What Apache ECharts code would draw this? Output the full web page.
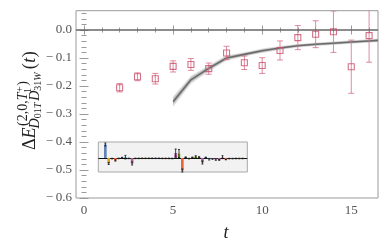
<!DOCTYPE html>
<html><head><meta charset="utf-8">
<script src="https://cdn.jsdelivr.net/npm/echarts@6/dist/echarts.min.js"></script>
<style>html,body{margin:0;padding:0;background:#fff}#c{width:390px;height:248px}</style>
</head><body><div id="c"></div>
<script>
// ---- data ----
const tValues = [2,3,4,5,6,7,8,9,10,11,12,13,14,15,16];
const dE      = [-0.206,-0.167,-0.174,-0.130,-0.123,-0.138,-0.082,-0.117,-0.127,-0.073,-0.027,-0.015,-0.006,-0.131,-0.020];
const dEerr   = [0.015,0.014,0.019,0.020,0.021,0.020,0.024,0.024,0.028,0.034,0.043,0.048,0.074,0.095,0.095];
const fitT       = [5,6,7,8,9,10,11,12,13,14,15,16,16.5];
const fitCentral = [-0.256,-0.178,-0.137,-0.100,-0.087,-0.074,-0.064,-0.056,-0.051,-0.047,-0.043,-0.039,-0.037];
const fitBand    = [0.012,0.009,0.007,0.006,0.005,0.005,0.0045,0.004,0.004,0.004,0.004,0.004,0.004];
const xMajorTicks = [0,5,10,15];
const xMinorTicks = [0,1,2,3,4,5,6,7,8,9,10,11,12,13,14,15,16];
const yMajorTicks = [-0.6,-0.5,-0.4,-0.3,-0.2,-0.1,0.0];
const yMinorTicks = [-0.6,-0.58,-0.56,-0.54,-0.52,-0.5,-0.48,-0.46,-0.44,-0.42,-0.4,-0.38,-0.36,-0.34,-0.32,-0.3,-0.28,-0.26,-0.24,-0.22,-0.2,-0.18,-0.16,-0.14,-0.12,-0.1,-0.08,-0.06,-0.04,-0.02,0,0.02,0.04,0.06];
const insetIndex  = [0,1,2,3,4,5,6,7,8,9,10,11,12,13,14,15,16,17,18,19,20,21,22,23,24,25,26,27,28,29,30,31,32,33,34,35,36,37,38,39,40,41];
const insetValues = [13.5,-5.5,-0.6,-2.5,-0.4,0.4,0.8,-0.4,-5.5,-0.4,-0.4,-0.3,-0.3,-0.3,-0.3,-0.3,-0.3,-0.4,-0.4,-0.4,-0.5,5,4.5,-12.5,0.8,-0.6,0.6,1.5,1.0,-4.5,0.6,-1.2,-1.0,-1.5,-2.0,0.8,-1.5,-0.6,-0.6,-0.5,-0.5,-0.5];
const insetErr    = [1.5,1.0,0.3,0.6,0.3,0.3,1.8,0.3,1.5,0.3,0.3,0.3,0.3,0.3,0.3,0.3,0.3,0.3,0.3,0.3,0.3,4,4,1.5,0.3,0.3,0.3,0.8,0.3,1.5,0.3,0.8,0.3,0.8,0.3,1.5,0.3,0.3,0.3,0.3,0.3,0.3];
const insetColorIdx = [0,1,2,3,4,5,6,7,8,9,10,11,12,13,14,0,1,2,3,4,5,8,2,3,0,1,0,2,4,8,0,6,4,8,8,1,3,0,1,0,1,5];

// ---- styles ----
const palette = ['#5e81b5','#e19c24','#8fb032','#eb6235','#8778b3','#c56e1a','#5d9ec7','#ffbf00','#a5609d','#929600','#e95536','#6685d9','#f89f13','#bc5b80','#47b66d'];
const FAM = "'Liberation Serif', 'DejaVu Serif', serif";
const markColor = '#c94e69';
const errColor = 'rgba(214,110,135,0.8)';
const frameColor = '#9a9a9a';
const XMIN = -0.45, XMAX = 16.5, YMIN = -0.6, YMAX = 0.069;

function tickAxis(kind, pos, vals, len, labels) {
  const a = {
    gridIndex: 0, type: 'value', position: pos,
    min: kind === 'x' ? XMIN : YMIN, max: kind === 'x' ? XMAX : YMAX,
    axisLine: { show: false },
    splitLine: { show: false },
    axisTick: { show: true, inside: true, length: len, customValues: vals, lineStyle: { color: frameColor, width: 1 } },
    axisLabel: { show: false }
  };
  if (labels) {
    a.axisLabel = {
      show: true, customValues: vals, fontFamily: FAM, fontSize: 13, color: '#555',
      margin: kind === 'x' ? 6 : 4,
      formatter: v => {
        if (kind === 'x') return String(Math.round(v));
        const s = Math.abs(v).toFixed(1);
        return (v < -1e-9 ? '\u2212\u2009' : '') + s;
      }
    };
  }
  return a;
}

// y-axis label built from pieces (rotated group)
function buildYLabel() {
  const cv = document.createElement('canvas').getContext('2d');
  const wid = (t, s, it) => { cv.font = (it ? 'italic ' : '') + s + 'px ' + FAM; return cv.measureText(t).width; };
  const M = 18, S = 14, SS = 10;
  const out = [];
  const put = (t, s, it, dy, at) => {
    out.push({ t, s, it, x: at, dy });
    return at + wid(t, s, it);
  };
  let u = put('\u0394', M, false, 0, 0);
  u = put('E', M, true, 0, u);
  const u0 = u + 0.5;
  // superscript
  let us = put('(2,0,', S, false, -8.5, u0 + 1);
  us = put('T', S, true, -8.5, us);
  const a1 = put('1', SS, false, -5, us - 0.5);
  const a2 = put('+', SS, false, -12.5, us + 0.5);
  us = put(')', S, false, -8.5, Math.max(a1, a2) + 0.5);
  // subscript
  let ub = put('D', S, true, 3.5, u0 - 1.5);
  ub = put('01', SS, false, 5.5, ub);
  ub = put('T', SS, true, 5.5, ub);
  ub = put('D', S, true, 3.5, ub + 2);
  ub = put('31', SS, false, 5.5, ub);
  ub = put('W', SS, true, 5.5, ub);
  u = Math.max(us, ub) + 3;
  u = put('(', M, false, 0, u);
  u = put('t', M, true, 0, u + 0.5);
  u = put(')', M, false, 0, u + 0.5);
  return out.map(p => ({
    type: 'text', x: p.x, y: p.dy - 0.3 * p.s,
    style: { text: p.t, font: (p.it ? 'italic ' : '') + p.s + 'px ' + FAM, fill: '#222', textAlign: 'left', textVerticalAlign: 'middle', verticalAlign: 'middle' }
  }));
}

const chart = echarts.init(document.getElementById('c'), null, { renderer: 'canvas' });

const option = {
  animation: false,
  backgroundColor: '#fff',
  grid: [
    { left: 76, top: 10.7, right: 12, bottom: 50, show: true, borderColor: frameColor, borderWidth: 1, backgroundColor: 'transparent', containLabel: false },
    { left: 98.3, top: 142, width: 149, height: 30, show: true, borderColor: '#a8a8a8', borderWidth: 1, backgroundColor: '#f2f2f2', containLabel: false }
  ],
  xAxis: [
    tickAxis('x', 'bottom', xMajorTicks, 4.5, true),
    tickAxis('x', 'bottom', xMinorTicks, 2.5, false),
    tickAxis('x', 'top', xMajorTicks, 4.5, false),
    tickAxis('x', 'top', xMinorTicks, 2.5, false),
    { gridIndex: 1, type: 'value', min: -2.1, max: 42.4, show: false }
  ],
  yAxis: [
    tickAxis('y', 'left', yMajorTicks, 4.5, true),
    tickAxis('y', 'left', yMinorTicks, 2.5, false),
    tickAxis('y', 'right', yMajorTicks, 4.5, false),
    tickAxis('y', 'right', yMinorTicks, 2.5, false),
    { gridIndex: 1, type: 'value', min: -14, max: 16, show: false }
  ],
  graphic: [
    { type: 'group', x: 36, y: 150, rotation: Math.PI / 2, children: buildYLabel() },
    { type: 'text', x: 226, y: 233, style: { text: 't', font: 'italic 18px ' + FAM, fill: '#222', textAlign: 'center', textVerticalAlign: 'middle', verticalAlign: 'middle' } }
  ],
  series: [
    {
      type: 'custom', xAxisIndex: 0, yAxisIndex: 0, clip: true, z: 2,
      data: fitT.map((t, i) => [t, fitCentral[i], fitBand[i]]),
      renderItem: (params, api) => {
        if (params.dataIndex !== 0) return null;
        const up = fitT.map((t, i) => api.coord([t, fitCentral[i] + fitBand[i]]));
        const dn = fitT.map((t, i) => api.coord([t, fitCentral[i] - fitBand[i]])).reverse();
        const outer = fitT.map((t, i) => api.coord([t, fitCentral[i] + fitBand[i] * 1.6]))
          .concat(fitT.map((t, i) => api.coord([t, fitCentral[i] - fitBand[i] * 1.6])).reverse());
        return { type: 'group', children: [
          { type: 'polygon', shape: { points: outer }, style: { fill: 'rgba(190,190,190,0.45)' } },
          { type: 'polygon', shape: { points: up.concat(dn) }, style: { fill: '#bdbdbd' } }
        ] };
      }
    },
    {
      type: 'line', xAxisIndex: 0, yAxisIndex: 0, z: 3,
      data: fitT.map((t, i) => [t, fitCentral[i]]),
      showSymbol: false, symbol: 'none',
      lineStyle: { color: '#6a6a6a', width: 1.6 }
    },
    {
      type: 'custom', xAxisIndex: 0, yAxisIndex: 0, clip: true, z: 4,
      data: tValues.map((t, i) => [t, dE[i], dEerr[i]]),
      renderItem: (params, api) => {
        const t = api.value(0), v = api.value(1), e = api.value(2);
        const p1 = api.coord([t, v + e]), p2 = api.coord([t, v - e]);
        const c = 3;
        const st = { stroke: errColor, lineWidth: 1 };
        return { type: 'group', children: [
          { type: 'line', shape: { x1: p1[0], y1: p1[1], x2: p2[0], y2: p2[1] }, style: st },
          { type: 'line', shape: { x1: p1[0] - c, y1: p1[1], x2: p1[0] + c, y2: p1[1] }, style: st },
          { type: 'line', shape: { x1: p2[0] - c, y1: p2[1], x2: p2[0] + c, y2: p2[1] }, style: st }
        ] };
      }
    },
    {
      type: 'scatter', xAxisIndex: 0, yAxisIndex: 0, z: 5,
      data: tValues.map((t, i) => [t, dE[i]]),
      symbol: 'rect', symbolSize: 6,
      itemStyle: { color: 'rgba(255,255,255,0)', borderColor: markColor, borderWidth: 1.1 },
      markLine: {
        silent: true, symbol: ['none', 'none'], label: { show: false },
        lineStyle: { color: '#666', width: 1.5, type: 'solid' },
        data: [{ yAxis: 0 }]
      }
    },
    {
      type: 'bar', xAxisIndex: 4, yAxisIndex: 4, z: 6,
      barWidth: 2.6,
      data: insetIndex.map((k, i) => ({ value: [k, insetValues[i]], itemStyle: { color: palette[insetColorIdx[i]] } })),
      markLine: {
        silent: true, symbol: ['none', 'none'], label: { show: false },
        lineStyle: { color: '#111', width: 1, type: 'solid' },
        data: [{ yAxis: 0 }]
      }
    },
    {
      type: 'custom', xAxisIndex: 4, yAxisIndex: 4, z: 7,
      data: insetIndex.map((k, i) => [k, insetValues[i], insetErr[i]]),
      renderItem: (params, api) => {
        const k = api.value(0), v = api.value(1), e = api.value(2);
        const p1 = api.coord([k, v + e]), p2 = api.coord([k, v - e]);
        const st = { stroke: '#111', lineWidth: 0.8 };
        return { type: 'group', children: [
          { type: 'line', shape: { x1: p1[0], y1: p1[1], x2: p2[0], y2: p2[1] }, style: st },
          { type: 'line', shape: { x1: p1[0] - 1, y1: p1[1], x2: p1[0] + 1, y2: p1[1] }, style: st },
          { type: 'line', shape: { x1: p2[0] - 1, y1: p2[1], x2: p2[0] + 1, y2: p2[1] }, style: st }
        ] };
      }
    }
  ]
};
chart.setOption(option);
</script>
</body></html>
